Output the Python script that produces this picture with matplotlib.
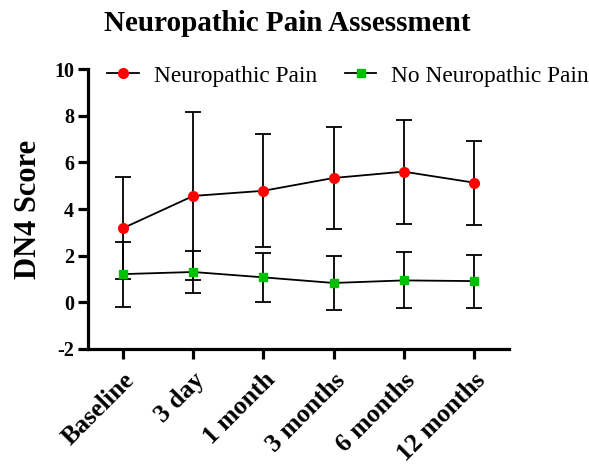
import matplotlib
matplotlib.use("Agg")
import matplotlib.pyplot as plt
from matplotlib.lines import Line2D
import numpy as np

categories = ["Baseline", "3 day", "1 month", "3 months", "6 months", "12 months"]
np_mean = [3.18, 4.56, 4.78, 5.33, 5.60, 5.13]
np_sd = [2.20, 3.60, 2.42, 2.20, 2.23, 1.80]
nonp_mean = [1.21, 1.30, 1.07, 0.83, 0.94, 0.91]
nonp_sd = [1.39, 0.90, 1.06, 1.15, 1.20, 1.14]
yticks = [-2, 0, 2, 4, 6, 8, 10]

plt.rcParams['font.family'] = ['Liberation Serif', 'DejaVu Serif']

fig = plt.figure(figsize=(5.89, 4.65), dpi=100)
ax = fig.add_axes([88/589, 1-349/465, (509-88)/589, (349-69)/465])

RED = '#ff0000'
GREEN = '#00c000'
x = np.arange(len(categories))
ax.errorbar(x, np_mean, yerr=np_sd, color='black', lw=1.3, elinewidth=1.3,
            capsize=5.5, capthick=1.3, marker='o', markersize=7,
            markerfacecolor=RED, markeredgecolor=RED, zorder=3)
ax.errorbar(x, nonp_mean, yerr=nonp_sd, color='black', lw=1.3, elinewidth=1.3,
            capsize=5.5, capthick=1.3, marker='s', markersize=6,
            markerfacecolor=GREEN, markeredgecolor=GREEN, zorder=3)

ax.set_xlim(-0.5, 5.5)
ax.set_ylim(-2, 10)
ax.set_yticks(yticks)
ax.set_yticklabels([str(v) for v in yticks], fontsize=14.5, fontweight='bold')
ax.set_xticks(x)
ax.set_xticklabels(categories, rotation=45, ha='right', rotation_mode='anchor',
                   fontsize=18.5, fontweight='bold')
for s in ['top', 'right']:
    ax.spines[s].set_visible(False)
for s in ['left', 'bottom']:
    ax.spines[s].set_linewidth(2.3)
ax.tick_params(axis='both', width=2.3, length=7, direction='out')
ax.tick_params(axis='x', pad=7)
ax.tick_params(axis='y', pad=3)

ax.set_ylabel('DN4 Score', fontsize=22, fontweight='bold', labelpad=8)
fig.text(0.488, 0.95, 'Neuropathic Pain Assessment', ha='center', va='center',
         fontsize=21, fontweight='bold')

handles = [
    Line2D([], [], color='black', lw=1.3, marker='o', markersize=7,
           markerfacecolor=RED, markeredgecolor=RED),
    Line2D([], [], color='black', lw=1.3, marker='s', markersize=6,
           markerfacecolor=GREEN, markeredgecolor=GREEN),
]
fig.legend(handles, ['Neuropathic Pain', 'No Neuropathic Pain'],
           loc='center left', bbox_to_anchor=(107/589, 1-76/465),
           bbox_transform=fig.transFigure, ncol=2, frameon=False,
           fontsize=16.8, handlelength=1.35, columnspacing=1.2,
           handletextpad=0.65, borderpad=0, borderaxespad=0)

fig.savefig('out.png', dpi=100)
